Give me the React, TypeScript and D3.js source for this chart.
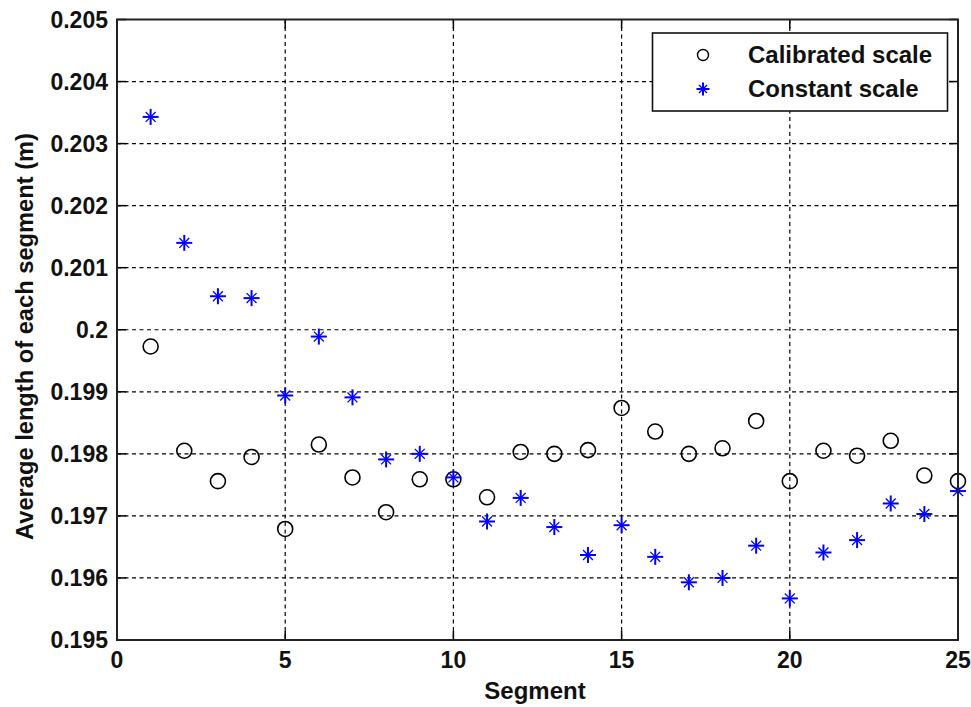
import React from "react";
import * as d3 from "d3";

const segments = [1,2,3,4,5,6,7,8,9,10,11,12,13,14,15,16,17,18,19,20,21,22,23,24,25];
const calibrated = [0.19973,0.19805,0.19756,0.19795,0.19679,0.19815,0.19762,0.19706,0.19759,0.19759,0.1973,0.19803,0.198,0.19806,0.19874,0.19836,0.198,0.19809,0.19853,0.19756,0.19805,0.19797,0.19821,0.19765,0.19756];
const constant = [0.20343,0.2014,0.20054,0.20051,0.19894,0.19989,0.19891,0.19791,0.198,0.19762,0.19691,0.19729,0.19682,0.19637,0.19685,0.19634,0.19593,0.196,0.19652,0.19567,0.19641,0.19661,0.1972,0.19703,0.1974];
const xTicks = [0,5,10,15,20,25];
const yTicks = [0.195,0.196,0.197,0.198,0.199,0.2,0.201,0.202,0.203,0.204,0.205];
const seriesNames = ["Calibrated scale","Constant scale"];

const W = 971, H = 707;
const L = 117, R = 958, T = 19.5, B = 640;
const FONT = "'Liberation Sans', Arial, sans-serif";

function Star({ cx, cy, s }: { cx: number; cy: number; s: number }) {
  const d = s * 0.62;
  return (
    <g stroke="#0000ff" fill="none">
      <line x1={cx - s} x2={cx + s} y1={cy} y2={cy} strokeWidth={2} />
      <line x1={cx} x2={cx} y1={cy - s} y2={cy + s} strokeWidth={2} />
      <line x1={cx - d} x2={cx + d} y1={cy - d} y2={cy + d} strokeWidth={1.3} />
      <line x1={cx - d} x2={cx + d} y1={cy + d} y2={cy - d} strokeWidth={1.3} />
    </g>
  );
}

export default function App() {
  const x = d3.scaleLinear().domain([0, 25]).range([L, R]);
  const y = d3.scaleLinear().domain([0.195, 0.205]).range([B, T]);
  const fmtY = (v: number) => d3.format(".3~f")(v);

  return (
    <svg width={W} height={H} style={{ position: "absolute", left: 0, top: 0, background: "#fff" }} fontFamily={FONT}>
      <rect x={0} y={0} width={W} height={H} fill="#fff" />
      {/* grid */}
      <g stroke="#000" strokeWidth={1.2} strokeDasharray="4,3.5">
        {xTicks.filter(t => t > 0 && t < 25).map(t => (
          <line key={"gx" + t} x1={x(t)} x2={x(t)} y1={T} y2={B} />
        ))}
        {yTicks.filter(t => t > 0.195 && t < 0.205).map(t => (
          <line key={"gy" + t} x1={L} x2={R} y1={y(t)} y2={y(t)} />
        ))}
      </g>
      {/* ticks inside */}
      <g stroke="#000" strokeWidth={1.5}>
        {xTicks.map(t => (
          <g key={"tx" + t}>
            <line x1={x(t)} x2={x(t)} y1={B} y2={B - 9} />
            <line x1={x(t)} x2={x(t)} y1={T} y2={T + 9} />
          </g>
        ))}
        {yTicks.map(t => (
          <g key={"ty" + t}>
            <line x1={L} x2={L + 9} y1={y(t)} y2={y(t)} />
            <line x1={R} x2={R - 9} y1={y(t)} y2={y(t)} />
          </g>
        ))}
      </g>
      {/* data */}
      <g>
        {segments.map((s, i) => (
          <circle key={"c" + s} cx={x(s)} cy={y(calibrated[i])} r={7.5} fill="none" stroke="#000" strokeWidth={1.6} />
        ))}
        {segments.map((s, i) => (
          <Star key={"s" + s} cx={x(s)} cy={y(constant[i])} s={8} />
        ))}
      </g>
      {/* frame */}
      <rect x={L} y={T} width={R - L} height={B - T} fill="none" stroke="#222" strokeWidth={2} />
      {/* tick labels */}
      <g fontSize={23} fontWeight="bold" fill="#111">
        {yTicks.map(t => (
          <text key={"ly" + t} x={108} y={y(t)} dy="0.36em" textAnchor="end">{fmtY(t)}</text>
        ))}
        {xTicks.map(t => (
          <text key={"lx" + t} x={x(t)} y={668} textAnchor="middle">{t}</text>
        ))}
      </g>
      {/* axis labels */}
      <text x={535} y={699} textAnchor="middle" fontSize={24} fontWeight="bold" fill="#111">Segment</text>
      <text transform="translate(33, 336.5) rotate(-90)" textAnchor="middle" fontSize={23} fontWeight="bold" fill="#111" textLength={407} lengthAdjust="spacingAndGlyphs">Average length of each segment (m)</text>
      {/* legend */}
      <g>
        <rect x={652.5} y={33} width={295} height={78} fill="#fff" stroke="#111" strokeWidth={1.6} />
        <circle cx={703} cy={55} r={5.5} fill="none" stroke="#000" strokeWidth={1.4} />
        <Star cx={703} cy={89} s={6.5} />
        <text x={748} y={63} fontSize={24} fontWeight="bold" fill="#111">{seriesNames[0]}</text>
        <text x={748} y={97} fontSize={24} fontWeight="bold" fill="#111">{seriesNames[1]}</text>
      </g>
    </svg>
  );
}
